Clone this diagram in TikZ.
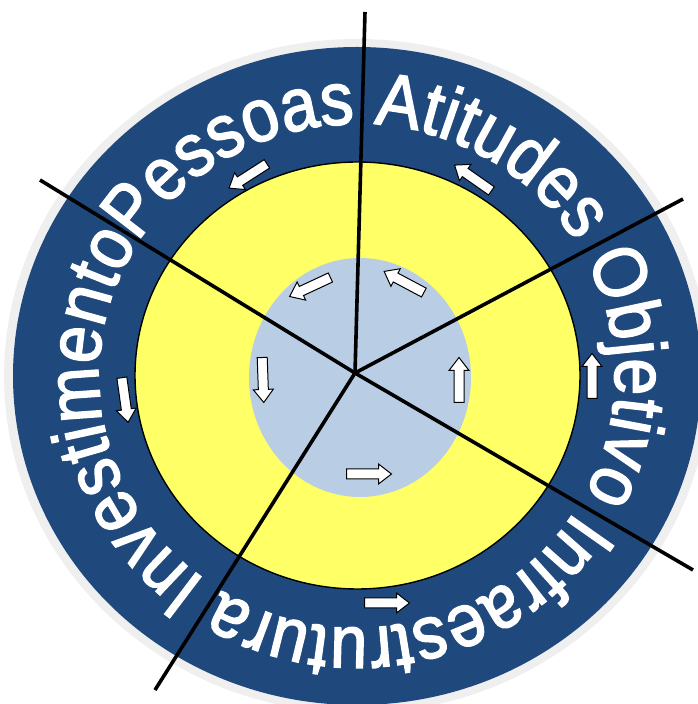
\documentclass[tikz,border=0pt]{standalone}
\usepackage{fontspec}
\newfontfamily\ringfamily[FakeStretch=0.89, FakeBold=2]{Liberation Sans}
\newcommand\ringtextfont{\ringfamily\fontsize{75}{78}\selectfont}
\usetikzlibrary{decorations.text}
\definecolor{ringblue}{HTML}{1F497D}
\definecolor{sunyellow}{HTML}{FFFF66}
\definecolor{coreblue}{HTML}{B9CDE5}
\definecolor{halo}{HTML}{EFEFEF}
\tikzset{
  spoke/.style={line width=3.6pt, black},
  blockarrow/.style={fill=white, draw=black, line width=1pt, line join=miter},
  barrow/.pic={\path[blockarrow] (-22.5pt,-5pt) -- (9.5pt,-5pt) -- (9.5pt,-10pt) -- (22.5pt,0pt) -- (9.5pt,10pt) -- (9.5pt,5pt) -- (-22.5pt,5pt) -- cycle;}
}
\begin{document}
\begin{tikzpicture}[x=1pt,y=1pt]
\useasboundingbox (0,0) rectangle (697,704);
% rings
\fill[halo] (357,328) ellipse [x radius=353pt, y radius=337pt];
\fill[ringblue] (357,328) ellipse [x radius=344pt, y radius=329pt];
\filldraw[fill=sunyellow, draw=black, line width=1.4pt] (357.5,328.5) ellipse [x radius=222.5pt, y radius=213.5pt];
\fill[coreblue] (360,326.5) ellipse [x radius=111pt, y radius=119.5pt];
% spokes
\coordinate (c) at (355,331);
\coordinate (etop) at (365,692);
\coordinate (eul) at (40,524);
\coordinate (eur) at (683,505);
\coordinate (elr) at (693,134);
\coordinate (ell) at (155,14);
\draw[spoke] (c) -- (etop);
\draw[spoke] (c) -- (eul);
\draw[spoke] (c) -- (eur);
\draw[spoke] (c) -- (elr);
\draw[spoke] (c) -- (ell);
% outer arrows
\pic[rotate=212.7] at (248,528) {barrow};
\pic[rotate=145] at (473,526) {barrow};
\pic[rotate=90] at (592,328) {barrow};
\pic[rotate=0] at (387,101) {barrow};
\pic[rotate=278] at (125,304) {barrow};
% inner arrows
\pic[rotate=205] at (310,417) {barrow};
\pic[rotate=152] at (404,422) {barrow};
\pic[rotate=90] at (459,324) {barrow};
\pic[rotate=0] at (369,230) {barrow};
\pic[rotate=272] at (263,324) {barrow};
% ring text
\path[decorate, decoration={text along path, text color=white,
   text align={fit to path},
   text={|\ringtextfont|Pessoas Atitudes Objetivo Infraestrutura Investimento}}]
  (357,328) ++(148:258pt and 252pt)
  arc[start angle=148, end angle=-212, x radius=258pt, y radius=252pt];
\end{tikzpicture}
\end{document}
